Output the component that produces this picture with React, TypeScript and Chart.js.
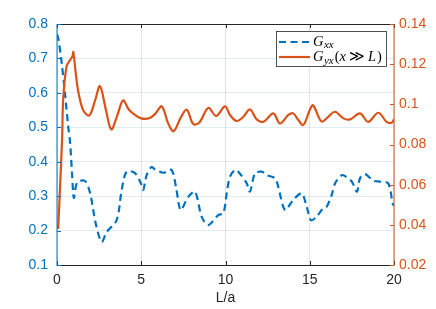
import React, { useEffect, useRef } from 'react';
import { Chart, registerables } from 'chart.js';

Chart.register(...registerables);

// ---- data ----
const GXX_X = [0, 0.08, 0.28, 0.47, 0.67, 0.77, 0.9, 1.0, 1.2, 1.66, 1.96, 2.3, 2.65, 2.95, 3.54, 3.84, 4.13, 4.63, 5.0, 5.12, 5.32, 5.62, 5.8, 6.31, 6.8, 7.06, 7.34, 7.79, 8.19, 8.59, 8.98, 9.57, 9.87, 10.1, 10.27, 10.56, 10.76, 11.26, 11.45, 11.75, 12.15, 12.44, 12.94, 13.13, 13.53, 14.02, 14.52, 14.82, 15.07, 15.4, 15.8, 16.0, 16.3, 16.5, 16.9, 17.1, 17.5, 17.8, 17.98, 18.28, 18.77, 19.17, 19.66, 19.92, 20];
const GXX_Y = [0.77, 0.758, 0.686, 0.6, 0.5, 0.46, 0.36, 0.295, 0.34, 0.344, 0.31, 0.22, 0.167, 0.196, 0.23, 0.318, 0.371, 0.367, 0.335, 0.318, 0.361, 0.385, 0.378, 0.368, 0.376, 0.327, 0.26, 0.298, 0.313, 0.24, 0.216, 0.245, 0.25, 0.318, 0.357, 0.376, 0.371, 0.337, 0.313, 0.366, 0.371, 0.361, 0.352, 0.327, 0.26, 0.289, 0.308, 0.269, 0.23, 0.24, 0.265, 0.269, 0.303, 0.337, 0.361, 0.358, 0.342, 0.313, 0.352, 0.364, 0.345, 0.342, 0.337, 0.279, 0.272];

const GYX_X = [0.07, 0.3, 0.37, 0.57, 0.77, 0.92, 0.97, 1.12, 1.27, 1.56, 1.92, 2.26, 2.55, 2.91, 3.22, 3.58, 3.92, 4.23, 4.5, 5.0, 5.5, 5.85, 6.22, 6.6, 6.92, 7.35, 7.7, 8.09, 8.45, 8.98, 9.45, 9.97, 10.27, 10.66, 11.06, 11.45, 11.85, 12.25, 12.84, 13.23, 13.73, 14.02, 14.32, 14.62, 15.0, 15.2, 15.7, 16.1, 16.5, 17.0, 17.4, 17.98, 18.47, 19.07, 19.56, 19.86, 20];
const GYX_Y = [0.038, 0.082, 0.103, 0.119, 0.122, 0.124, 0.126, 0.115, 0.106, 0.097, 0.0945, 0.102, 0.109, 0.097, 0.0875, 0.0945, 0.102, 0.0978, 0.0955, 0.093, 0.0932, 0.0955, 0.099, 0.0905, 0.0866, 0.0935, 0.0973, 0.0902, 0.091, 0.0982, 0.0942, 0.099, 0.0947, 0.0917, 0.0938, 0.0975, 0.0925, 0.0913, 0.0955, 0.0905, 0.0947, 0.0955, 0.0922, 0.0897, 0.0972, 0.0995, 0.0915, 0.0938, 0.0963, 0.093, 0.0925, 0.0955, 0.0913, 0.0958, 0.0913, 0.0908, 0.0925];

const X_TICKS = [0, 5, 10, 15, 20];
const LEFT_TICKS = [0.1, 0.2, 0.3, 0.4, 0.5, 0.6, 0.7, 0.8];
const RIGHT_TICKS = [0.02, 0.04, 0.06, 0.08, 0.1, 0.12, 0.14];
const X_LABEL = 'L/a';

const BLUE = '#0072BD';
const ORANGE = '#D95319';
const DARK = '#262626';
const SANS = '"Liberation Sans", Arial, Helvetica, sans-serif';
const SERIF = '"Liberation Serif", "DejaVu Serif", serif';

const axesPlugin = {
  id: 'matlabAxes',
  afterDraw(chart: any) {
    const { ctx, chartArea } = chart;
    const { left, right, top, bottom } = chartArea;
    const sx = chart.scales.x;
    const sl = chart.scales.y;
    const sr = chart.scales.y1;
    const tl = 4;
    ctx.save();
    ctx.lineWidth = 1;
    ctx.strokeStyle = DARK;
    ctx.beginPath();
    ctx.moveTo(left, top + 0.5); ctx.lineTo(right, top + 0.5);
    ctx.moveTo(left, bottom + 0.5); ctx.lineTo(right, bottom + 0.5);
    ctx.stroke();
    ctx.beginPath();
    X_TICKS.forEach((v) => {
      const px = Math.round(sx.getPixelForValue(v)) + 0.5;
      ctx.moveTo(px, top); ctx.lineTo(px, top + tl);
      ctx.moveTo(px, bottom); ctx.lineTo(px, bottom - tl);
    });
    ctx.stroke();
    ctx.strokeStyle = BLUE;
    ctx.beginPath();
    ctx.moveTo(left, top); ctx.lineTo(left, bottom + 1);
    LEFT_TICKS.forEach((v) => {
      const py = Math.round(sl.getPixelForValue(v)) + 0.5;
      ctx.moveTo(left, py); ctx.lineTo(left + tl, py);
    });
    ctx.stroke();
    ctx.strokeStyle = ORANGE;
    ctx.beginPath();
    ctx.moveTo(right, top); ctx.lineTo(right, bottom + 1);
    RIGHT_TICKS.forEach((v) => {
      const py = Math.round(sr.getPixelForValue(v)) + 0.5;
      ctx.moveTo(right, py); ctx.lineTo(right - tl, py);
    });
    ctx.stroke();

    // legend
    const lx = 276, ly = 31, lw = 110, lh = 35;
    ctx.fillStyle = '#ffffff';
    ctx.fillRect(lx, ly, lw, lh);
    ctx.strokeStyle = DARK;
    ctx.lineWidth = 0.8;
    ctx.strokeRect(lx + 0.5, ly + 0.5, lw, lh);

    const y1 = 42, y2 = 57;
    ctx.lineWidth = 2.2;
    ctx.strokeStyle = BLUE;
    ctx.setLineDash([7, 4.5]);
    ctx.beginPath(); ctx.moveTo(279, y1); ctx.lineTo(310, y1); ctx.stroke();
    ctx.setLineDash([]);
    ctx.strokeStyle = ORANGE;
    ctx.lineWidth = 2.2;
    ctx.beginPath(); ctx.moveTo(279, y2); ctx.lineTo(310, y2); ctx.stroke();

    ctx.fillStyle = '#000000';
    ctx.textBaseline = 'alphabetic';
    ctx.textAlign = 'left';
    const big = `italic 14.5px ${SERIF}`;
    const small = `italic 11px ${SERIF}`;
    const up = `14.5px ${SERIF}`;
    let x = 313;
    ctx.font = big; ctx.fillText('G', x, y1 + 3.5); x += ctx.measureText('G').width + 0.5;
    ctx.font = small; ctx.fillText('xx', x, y1 + 6);
    x = 313;
    ctx.font = big; ctx.fillText('G', x, y2 + 4); x += ctx.measureText('G').width + 0.5;
    ctx.font = small; ctx.fillText('yx', x, y2 + 6.5); x += ctx.measureText('yx').width + 1;
    ctx.font = up; ctx.fillText('(', x, y2 + 4); x += ctx.measureText('(').width;
    ctx.font = big; ctx.fillText('x', x, y2 + 4); x += ctx.measureText('x').width + 3;
    ctx.font = up; ctx.fillText('\u226B', x, y2 + 4); x += ctx.measureText('\u226B').width + 3;
    ctx.font = big; ctx.fillText('L', x, y2 + 4); x += ctx.measureText('L').width + 1;
    ctx.font = up; ctx.fillText(')', x, y2 + 4);
    ctx.restore();
  },
};

export default function App() {
  const ref = useRef<HTMLCanvasElement>(null);
  useEffect(() => {
    const gxx = GXX_X.map((x, i) => ({ x, y: GXX_Y[i] }));
    const gyx = GYX_X.map((x, i) => ({ x, y: GYX_Y[i] }));
    const chart = new Chart(ref.current as HTMLCanvasElement, {
      type: 'line',
      data: {
        datasets: [
          {
            label: 'Gyx(x >> L)',
            data: gyx,
            yAxisID: 'y1',
            borderColor: ORANGE,
            borderWidth: 2.2,
            pointRadius: 0,
            tension: 0.35,
            order: 0,
          },
          {
            label: 'Gxx',
            data: gxx,
            yAxisID: 'y',
            borderColor: BLUE,
            borderWidth: 2.2,
            borderDash: [7, 4.5],
            pointRadius: 0,
            tension: 0.3,
            order: 1,
          },
        ],
      },
      options: {
        responsive: false,
        animation: false,
        events: [],
        layout: { padding: { top: 24, left: 0, right: 0, bottom: 0 } },
        plugins: { legend: { display: false }, tooltip: { enabled: false } },
        scales: {
          x: {
            type: 'linear',
            min: 0,
            max: 20,
            afterBuildTicks: (s: any) => { s.ticks = X_TICKS.map((v) => ({ value: v })); },
            afterFit: (s: any) => { s.height = 44; },
            grid: { color: 'rgba(38,38,38,0.13)', drawTicks: false },
            border: { display: false },
            ticks: {
              color: DARK,
              padding: 7,
              maxRotation: 0,
              font: { family: SANS, size: 14 },
              callback: (v: any) => String(v),
            },
            title: {
              display: true,
              text: X_LABEL,
              color: DARK,
              font: { family: SANS, size: 14 },
              padding: { top: 0, bottom: 2 },
            },
          },
          y: {
            type: 'linear',
            position: 'left',
            min: 0.1,
            max: 0.8,
            afterBuildTicks: (s: any) => { s.ticks = LEFT_TICKS.map((v) => ({ value: v })); },
            afterFit: (s: any) => { s.width = 57; },
            grid: { color: 'rgba(0,114,189,0.13)', drawTicks: false },
            border: { display: false },
            ticks: {
              color: BLUE,
              padding: 9,
              font: { family: SANS, size: 14 },
              callback: (v: any) => Number(v).toFixed(1),
            },
          },
          y1: {
            type: 'linear',
            position: 'right',
            min: 0.02,
            max: 0.14,
            afterBuildTicks: (s: any) => { s.ticks = RIGHT_TICKS.map((v) => ({ value: v })); },
            afterFit: (s: any) => { s.width = 42; },
            grid: { display: false, drawTicks: false },
            border: { display: false },
            ticks: {
              color: ORANGE,
              padding: 5,
              font: { family: SANS, size: 14 },
              callback: (v: any) => {
                const n = Number(v);
                return n === 0.1 ? '0.1' : n.toFixed(2);
              },
            },
          },
        },
      },
      plugins: [axesPlugin],
    } as any);
    return () => chart.destroy();
  }, []);
  return (
    <div style={{ position: 'absolute', left: 0, top: 0, width: 436, height: 309, background: '#fff' }}>
      <canvas ref={ref} width={436} height={309} style={{ display: 'block', width: 436, height: 309 }} />
    </div>
  );
}
